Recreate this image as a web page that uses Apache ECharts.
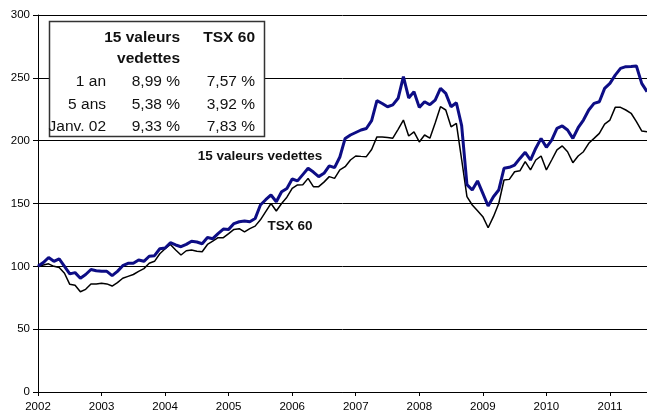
<!DOCTYPE html>
<html lang="fr">
<head>
    <meta charset="UTF-8">
    <title>15 valeurs vedettes / TSX 60</title>
    <script src="https://cdn.jsdelivr.net/npm/echarts@6/dist/echarts.min.js"></script>
    <style>
        html, body { margin: 0; padding: 0; background: #fff; }
        #chart { width: 647px; height: 414px; }
    </style>
</head>
<body>
<div id="chart"></div>
<script>
    // indice mensuel, janv. 2002 = 100
    var years = [2002, 2003, 2004, 2005, 2006, 2007, 2008, 2009, 2010, 2011];

    var vedettes = [
        100, 103, 107, 104, 106, 100, 94, 95, 90.5, 93.5, 97.5, 96.5,
        96, 96, 92.6, 96, 100.5, 102.4, 102.4, 105, 104, 108, 108.5, 114,
        114.6, 118.8, 117, 115.6, 117.5, 120, 119.4, 118, 123, 122, 126, 129.7,
        129.4, 134, 135.5, 136, 135.5, 138, 148.8, 153, 156.8, 151.4, 159.4, 162,
        169.5, 168, 173, 178, 175, 171.4, 174, 180, 178.5, 187, 201.8, 204.5,
        206.5, 208.5, 209.7, 216, 231.8, 229.6, 227, 228.5, 233.7, 251, 234, 239,
        226.5, 231, 228.6, 232.3, 241.6, 237.6, 227, 230.2, 212, 165, 160.7, 168,
        158, 148, 155.4, 160.7, 178, 178.8, 180.6, 185.9, 190.7, 184.6, 194, 201.8,
        194.7, 200.5, 209.8, 211.7, 208.5, 201.8, 210.3, 216.4, 224.4, 229.7, 231, 241.6,
        245.6, 252.2, 257.5, 258.9, 259, 259.4, 245.6, 239
    ];

    var tsx60 = [
        100, 101, 102, 100, 99, 94.5, 85.7, 85, 79.8, 81.7, 86, 86,
        86.5, 86, 84.3, 87, 90.5, 92, 93.5, 96, 98.2, 102.4, 104, 110,
        114, 117.4, 113, 109, 112.4, 113, 112, 111.6, 117.4, 120, 122.8, 122.8,
        126, 129.4, 130, 127.4, 130, 132, 137, 143.5, 150, 144, 150, 155,
        162, 164.8, 165, 170, 163.4, 163.4, 167, 171.4, 170, 176.7, 179.3, 184.6,
        187.8, 187.5, 187.3, 193, 203, 203, 202.6, 202, 209, 216.4, 203.7, 207,
        199, 204.5, 202, 214, 227, 224.4, 211, 213.8, 185, 155.4, 148.8, 144.3,
        139.5, 130.7, 139.5, 150, 168.7, 169.2, 175.3, 176, 183.3, 176.7, 184.6, 187.8,
        176.7, 184.6, 192.6, 195.8, 191.2, 182.5, 187.8, 191.2, 197.9, 201.8, 205.8, 213.2,
        216.4, 226.5, 226.5, 224.4, 221.8, 215.1, 207.7, 207
    ];

    // tableau des rendements
    var tableHeaders = ['15 valeurs', 'vedettes', 'TSX 60'];
    var rowLabels = ['1 an', '5 ans', 'Janv. 02'];
    var vedettesReturns = ['8,99 %', '5,38 %', '9,33 %'];
    var tsxReturns = ['7,57 %', '3,92 %', '7,83 %'];

    var FONT = '"Liberation Sans", Arial, Helvetica, sans-serif';

    function toPoints(arr) {
        return arr.map(function (v, i) { return [i, v]; });
    }

    function txt(text, x, y, size, bold, align) {
        return {
            type: 'text',
            z: 100,
            style: {
                text: text,
                x: x,
                y: y,
                fill: '#111',
                font: (bold ? 'bold ' : '') + size + 'px ' + FONT,
                align: align,
                verticalAlign: 'middle',
                textAlign: align,
                textVerticalAlign: 'middle'
            }
        };
    }

    var rowsY = [82, 104.5, 127];
    var tableEls = [{
        type: 'rect',
        z: 90,
        shape: {x: 49.5, y: 21.5, width: 215, height: 115},
        style: {fill: '#fff', stroke: '#333', lineWidth: 1.5}
    }];
    tableEls.push(txt(tableHeaders[0], 180, 37.5, 15.5, true, 'right'));
    tableEls.push(txt(tableHeaders[1], 180, 59, 15.5, true, 'right'));
    tableEls.push(txt(tableHeaders[2], 255, 37.5, 15.5, true, 'right'));
    for (var r = 0; r < rowLabels.length; r++) {
        tableEls.push(txt(rowLabels[r], 106, rowsY[r], 15.5, false, 'right'));
        tableEls.push(txt(vedettesReturns[r], 180, rowsY[r], 15.5, false, 'right'));
        tableEls.push(txt(tsxReturns[r], 255, rowsY[r], 15.5, false, 'right'));
    }
    // étiquettes des courbes
    tableEls.push(txt('15 valeurs vedettes', 260, 156, 13.5, true, 'center'));
    tableEls.push(txt('TSX 60', 290, 226, 13.5, true, 'center'));

    var chart = echarts.init(document.getElementById('chart'));
    var option = {
        animation: false,
        backgroundColor: '#fff',
        grid: {left: 38, right: 0, top: 15, bottom: 22},
        xAxis: {
            type: 'value',
            min: 0,
            max: vedettes.length - 1,
            axisLine: {show: true, lineStyle: {color: '#000', width: 1}},
            axisTick: {
                show: true,
                length: 4,
                lineStyle: {color: '#000'},
                customValues: years.map(function (y) { return (y - 2002) * 12; })
            },
            axisLabel: {
                color: '#000',
                fontSize: 11.5,
                fontFamily: FONT,
                margin: 9,
                customValues: years.map(function (y) { return (y - 2002) * 12; }),
                formatter: function (v) { return String(2002 + Math.round(v / 12)); }
            },
            splitLine: {show: false}
        },
        yAxis: {
            type: 'value',
            min: 0,
            max: 300,
            interval: 50,
            axisLine: {show: true, lineStyle: {color: '#000', width: 1}},
            axisTick: {show: true, length: 5, lineStyle: {color: '#000'}},
            axisLabel: {color: '#000', fontSize: 11.5, fontFamily: FONT, margin: 8},
            splitLine: {show: true, lineStyle: {color: '#000', width: 1}}
        },
        series: [
            {
                name: 'TSX 60',
                type: 'line',
                data: toPoints(tsx60),
                symbol: 'none',
                lineStyle: {color: '#000', width: 1.5},
                z: 2
            },
            {
                name: '15 valeurs vedettes',
                type: 'line',
                data: toPoints(vedettes),
                symbol: 'none',
                lineStyle: {color: '#0d0d85', width: 3},
                z: 3
            }
        ],
        graphic: tableEls
    };
    chart.setOption(option);
</script>
</body>
</html>
